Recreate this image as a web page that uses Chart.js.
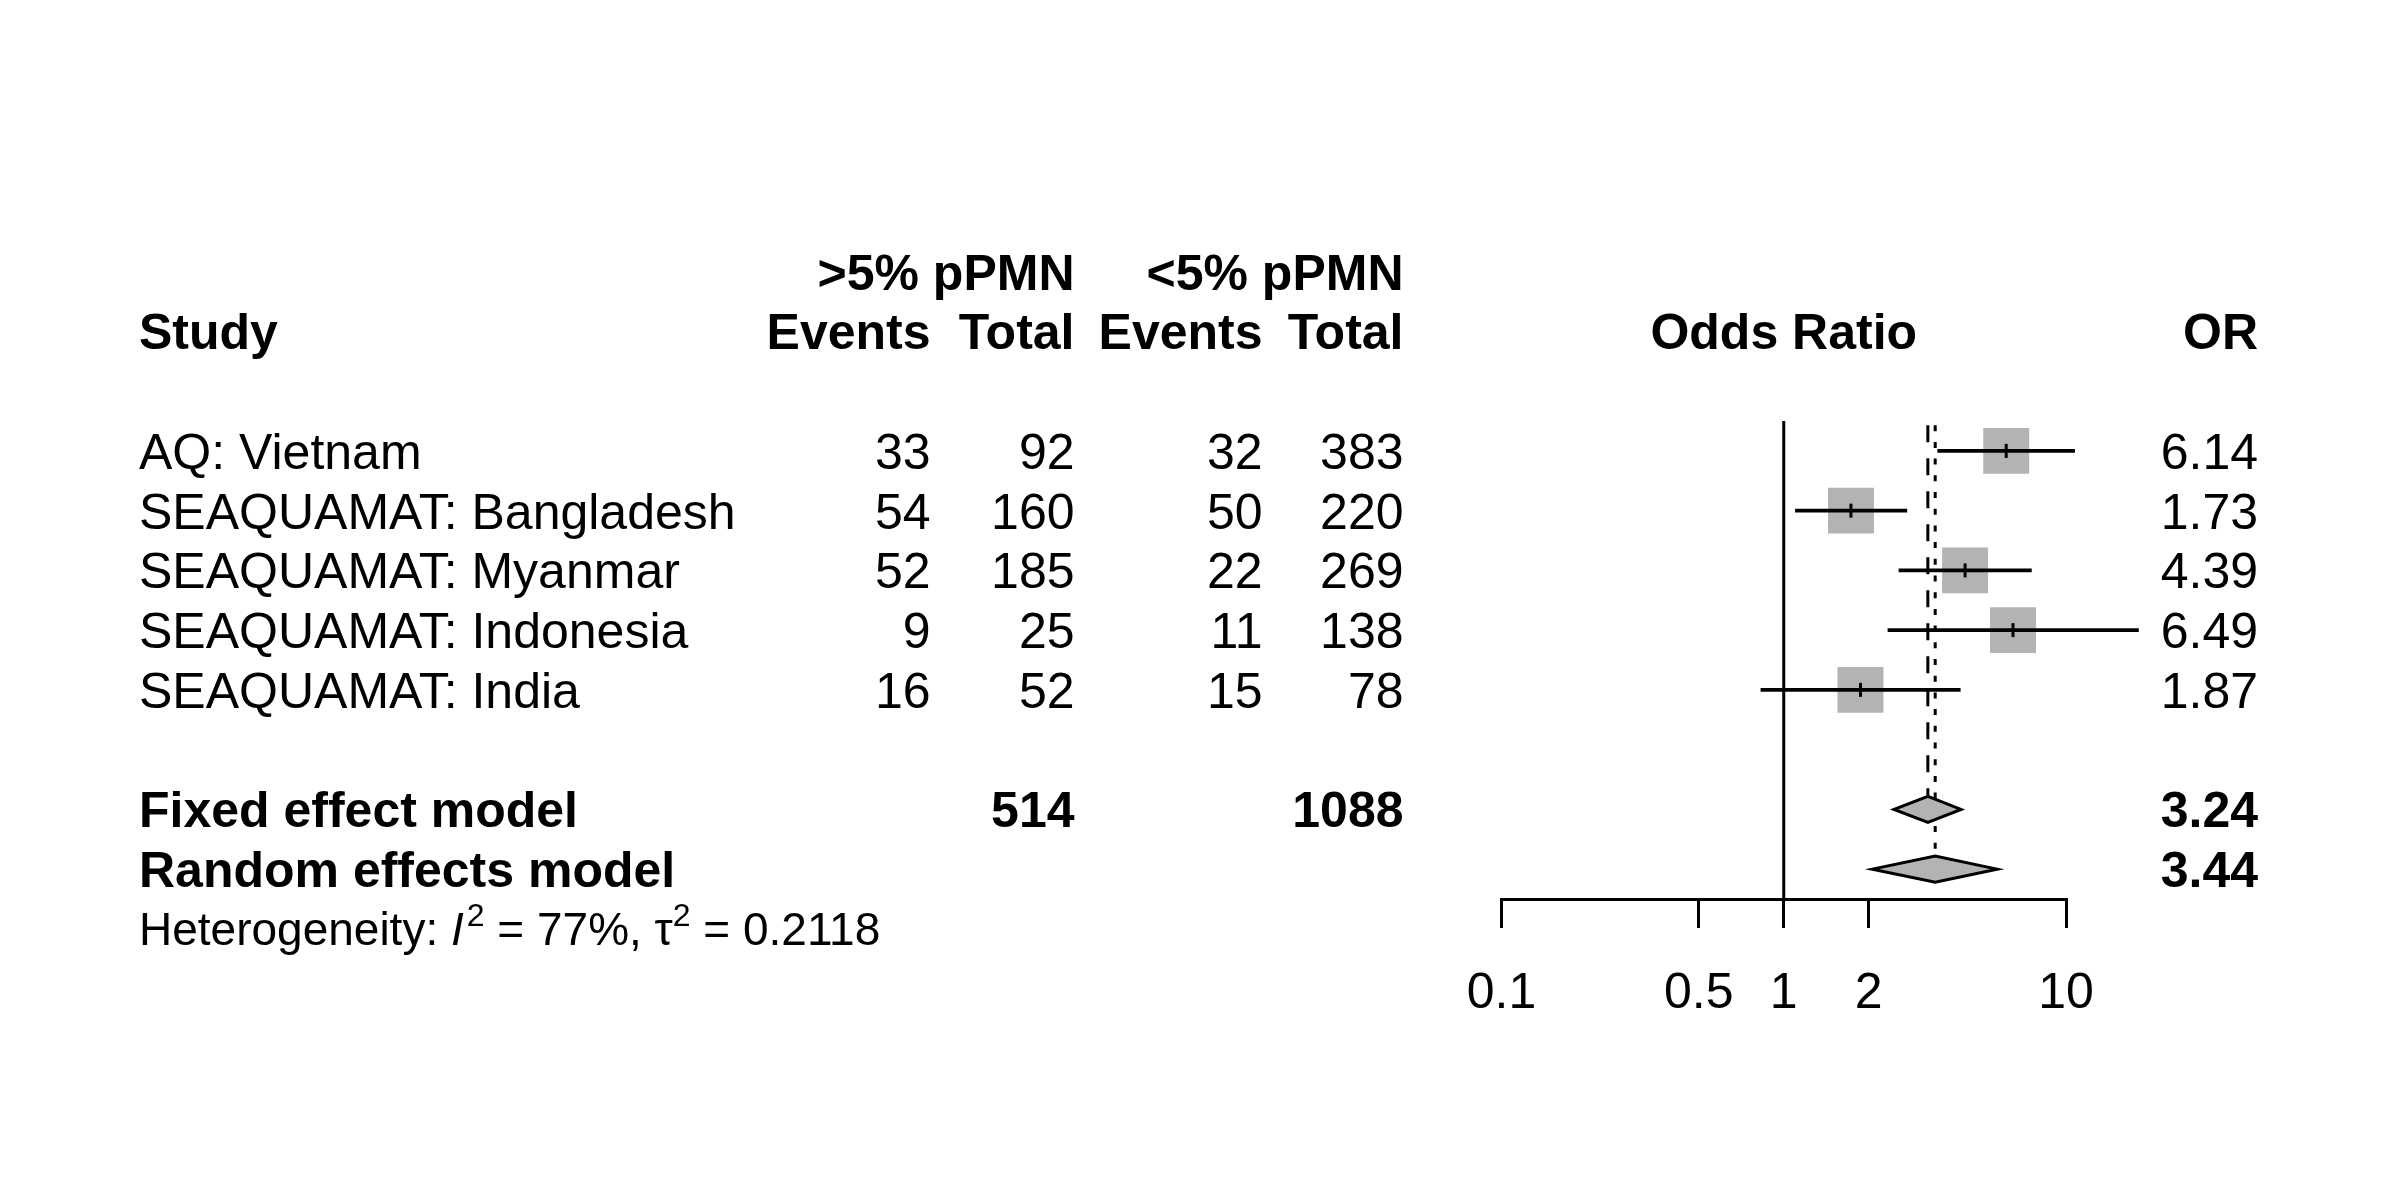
<!DOCTYPE html>
<html><head><meta charset="utf-8">
<script src="https://cdn.jsdelivr.net/npm/chart.js@4/dist/chart.umd.min.js"></script>
<style>html,body{margin:0;padding:0;background:#fff;}canvas{display:block;}</style>
</head><body>
<canvas id="c" width="2400" height="1200"></canvas>
<script>
// ---- data ----
const studies = ['AQ: Vietnam', 'SEAQUAMAT: Bangladesh', 'SEAQUAMAT: Myanmar', 'SEAQUAMAT: Indonesia', 'SEAQUAMAT: India'];
const eventsHigh = [33, 54, 52, 9, 16];
const totalHigh = [92, 160, 185, 25, 52];
const eventsLow = [32, 50, 22, 11, 15];
const totalLow = [383, 220, 269, 138, 78];
const oddsRatio = [6.14, 1.73, 4.39, 6.49, 1.87];
const ciLower = [3.51, 1.10, 2.56, 2.34, 0.83];
const ciUpper = [10.73, 2.73, 7.54, 18.06, 4.22];
const pooledLabels = ['Fixed effect model', 'Random effects model'];
const pooledOR = [3.24, 3.44];
const pooledLower = [2.46, 2.06];
const pooledUpper = [4.25, 5.70];
const pooledTotalHigh = 514;
const pooledTotalLow = 1088;
const heterogeneity = {I2: '77%', tau2: '0.2118'};
const tickValues = [0.1, 0.5, 1, 2, 10];
const tickLabels = ['0.1', '0.5', '1', '2', '10'];

// ---- layout / style ----
const FONT = '"Liberation Sans", Arial, Helvetica, sans-serif';
const FS = 50, FS_HET = 46;
const GREY = '#B3B3B3';
const COL = {study: 139, ev1: 930.5, tot1: 1074.5, ev2: 1262.5, tot2: 1403.5, or: 2258};
const studyRow = i => i + 1;
const pooledRow = i => 7 + i;
const hetRow = 9;

const squareData = oddsRatio.map((v, i) => ({x: v, y: studyRow(i)}));
const ciData = oddsRatio.map((v, i) => ({x: [ciLower[i], ciUpper[i]], y: studyRow(i)}));

const textPlugin = {
  id: 'forestText',
  afterDatasetsDraw(chart) {
    const ctx = chart.ctx, xs = chart.scales.x, ys = chart.scales.y;
    ctx.save();
    pooledOR.forEach((v, i) => {
      const yc = ys.getPixelForValue(pooledRow(i));
      const h = 13;
      ctx.beginPath();
      ctx.moveTo(xs.getPixelForValue(pooledLower[i]), yc);
      ctx.lineTo(xs.getPixelForValue(v), yc - h);
      ctx.lineTo(xs.getPixelForValue(pooledUpper[i]), yc);
      ctx.lineTo(xs.getPixelForValue(v), yc + h);
      ctx.closePath();
      ctx.fillStyle = GREY; ctx.fill();
      ctx.lineWidth = 3; ctx.strokeStyle = '#000'; ctx.lineJoin = 'miter'; ctx.stroke();
    });
    ctx.restore();
  },
  afterDraw(chart) {
    const ctx = chart.ctx, xs = chart.scales.x, ys = chart.scales.y;
    const rowY = r => ys.getPixelForValue(r);
    ctx.save();
    ctx.fillStyle = '#000';
    ctx.textBaseline = 'alphabetic';
    function txt(s, x, r, align, bold, size) {
      size = size || FS;
      ctx.font = (bold ? 'bold ' : '') + size + 'px ' + FONT;
      ctx.textAlign = align;
      ctx.fillText(s, x, rowY(r) + size * 0.716 / 2);
    }
    txt('>5% pPMN', COL.tot1, -2, 'right', true);
    txt('<5% pPMN', COL.tot2, -2, 'right', true);
    txt('Study', COL.study, -1, 'left', true);
    txt('Events', COL.ev1, -1, 'right', true);
    txt('Total', COL.tot1, -1, 'right', true);
    txt('Events', COL.ev2, -1, 'right', true);
    txt('Total', COL.tot2, -1, 'right', true);
    txt('Odds Ratio', (xs.left + xs.right) / 2, -1, 'center', true);
    txt('OR', COL.or, -1, 'right', true);
    studies.forEach((s, i) => {
      const r = studyRow(i);
      txt(s, COL.study, r, 'left');
      txt(String(eventsHigh[i]), COL.ev1, r, 'right');
      txt(String(totalHigh[i]), COL.tot1, r, 'right');
      txt(String(eventsLow[i]), COL.ev2, r, 'right');
      txt(String(totalLow[i]), COL.tot2, r, 'right');
      txt(oddsRatio[i].toFixed(2), COL.or, r, 'right');
    });
    pooledLabels.forEach((s, i) => {
      const r = pooledRow(i);
      txt(s, COL.study, r, 'left', true);
      txt(pooledOR[i].toFixed(2), COL.or, r, 'right', true);
    });
    txt(String(pooledTotalHigh), COL.tot1, pooledRow(0), 'right', true);
    txt(String(pooledTotalLow), COL.tot2, pooledRow(0), 'right', true);
    const base = rowY(hetRow) + FS_HET * 0.716 / 2;
    const SUP = 32, RAISE = 19;
    const segs = [
      ['Heterogeneity: ', '', FS_HET, 0],
      ['I', 'italic ', FS_HET, 0],
      ['2', '', SUP, RAISE],
      [' = ' + heterogeneity.I2 + ', ', '', FS_HET, 0],
      ['\u03C4', '', FS_HET, 0],
      ['2', '', SUP, RAISE],
      [' = ' + heterogeneity.tau2, '', FS_HET, 0]
    ];
    let x = COL.study;
    ctx.textAlign = 'left';
    segs.forEach(([s, st, sz, up]) => {
      ctx.font = st + sz + 'px ' + FONT;
      ctx.fillText(s, x, base - up);
      x += ctx.measureText(s).width + (st ? 3 : 0);
    });
    ctx.restore();
  }
};

new Chart(document.getElementById('c'), {
  type: 'scatter',
  data: {
    datasets: [
      {
        type: 'scatter', data: squareData, order: 1,
        pointStyle: 'line', rotation: 90, pointRadius: 7,
        borderColor: '#000', borderWidth: 3, backgroundColor: '#000', clip: false
      },
      {
        type: 'bar', indexAxis: 'y', data: ciData, order: 2,
        backgroundColor: '#000', borderWidth: 0, barThickness: 3, clip: false,
        xAxisID: 'x', yAxisID: 'y'
      },
      {
        type: 'scatter', data: squareData, order: 3,
        pointStyle: 'rect', pointRadius: 32.5, backgroundColor: GREY, borderWidth: 0, clip: false
      },
      {
        type: 'scatter', showLine: true, order: 4,
        data: [{x: pooledOR[0], y: 0.57}, {x: pooledOR[0], y: pooledRow(0)}],
        borderColor: '#000', borderWidth: 3, borderDash: [17, 16], pointRadius: 0
      },
      {
        type: 'scatter', showLine: true, order: 5,
        data: [{x: pooledOR[1], y: 0.57}, {x: pooledOR[1], y: pooledRow(1)}],
        borderColor: '#000', borderWidth: 3, borderDash: [6, 10.7], pointRadius: 0
      },
      {
        type: 'scatter', showLine: true, order: 6,
        data: [{x: 1, y: 0.5}, {x: 1, y: 8.5}],
        borderColor: '#000', borderWidth: 3, pointRadius: 0
      }
    ]
  },
  options: {
    responsive: false, devicePixelRatio: 1, animation: false, events: [],
    layout: {padding: {left: 1501.5, right: 334, top: 421, bottom: 0}},
    plugins: {legend: {display: false}, tooltip: {enabled: false}},
    scales: {
      x: {
        type: 'logarithmic', position: 'bottom', min: 0.1, max: 10, beginAtZero: false, offset: false,
        afterBuildTicks: s => { s.ticks = tickValues.map(v => ({value: v})); },
        afterFit: s => { s.height = 301; },
        grid: {display: true, drawOnChartArea: false, drawTicks: true, tickLength: 29,
               tickWidth: 3, tickColor: '#000', color: '#000', lineWidth: 3, offset: false},
        border: {display: true, color: '#000', width: 3},
        ticks: {autoSkip: false, maxRotation: 0, minRotation: 0, color: '#000', padding: 36,
                font: {family: FONT, size: FS},
                callback: (v, i) => tickLabels[i]}
      },
      y: {
        type: 'linear', min: 0.5, max: 8.5, reverse: true, display: false, offset: false,
        grid: {offset: false}
      }
    }
  },
  plugins: [textPlugin]
});
</script>
</body></html>
